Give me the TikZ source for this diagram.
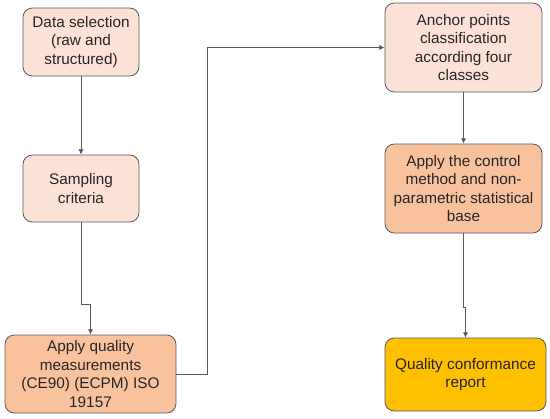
\documentclass[tikz,border=0pt]{standalone}
\usepackage{fontspec}
\setmainfont{Liberation Sans}
\usetikzlibrary{arrows.meta,positioning}
\definecolor{pinkbox}{HTML}{FCE1D7}
\definecolor{orangebox}{HTML}{F8C29D}
\definecolor{yellowbox}{HTML}{FFC000}
\definecolor{edgegray}{HTML}{595959}

\begin{document}
\begin{tikzpicture}[x=0.75pt, y=-0.75pt,
  flowbox/.style={rectangle, rounded corners=7pt, draw=edgegray, line width=0.6pt, align=center, text=black!85,
    font=\fontsize{11.5}{13.9}\selectfont, inner sep=2pt},
  flowarrow/.style={-{Latex[length=4pt,width=4pt]}, draw=edgegray, line width=0.7pt}]
  \useasboundingbox (0,0) rectangle (550,418);
  \node[flowbox, fill=pinkbox, minimum width=87pt, minimum height=51pt] (select) at (81,42) {Data selection\\(raw and\\structured)};
  \node[flowbox, fill=pinkbox, minimum width=87pt, minimum height=50.25pt] (sampling) at (81,188.5) {Sampling\\criteria};
  \node[flowbox, fill=orangebox, minimum width=128.25pt, minimum height=58.5pt] (measure) at (90.5,374) {Apply quality\\measurements\\(CE90) (ECPM) ISO\\19157};
  \node[flowbox, fill=pinkbox, minimum width=117.75pt, minimum height=66.75pt] (anchor) at (463.5,47.5) {Anchor points\\classification\\according four\\classes};
  \node[flowbox, fill=orangebox, minimum width=117.75pt, minimum height=66.75pt] (control) at (463.5,188.5) {Apply the control\\method and non-\\parametric statistical\\base};
  \node[flowbox, fill=yellowbox, minimum width=120.75pt, minimum height=54.75pt] (report) at (465.5,374.5) {Quality conformance\\report};
  \coordinate (bend1) at (90.5,304);
  \coordinate (bend2) at (207,47.5);
  \coordinate (bend3) at (465.5,307);
  \draw[flowarrow] (select) -- (sampling);
  \draw[flowarrow] (sampling.south) |- (bend1) -- (measure.north);
  \draw[flowarrow] (measure.east) -| (bend2) -- (anchor.west);
  \draw[flowarrow] (anchor) -- (control);
  \draw[flowarrow] (control.south) |- (bend3) -- (report.north);
\end{tikzpicture}
\end{document}
